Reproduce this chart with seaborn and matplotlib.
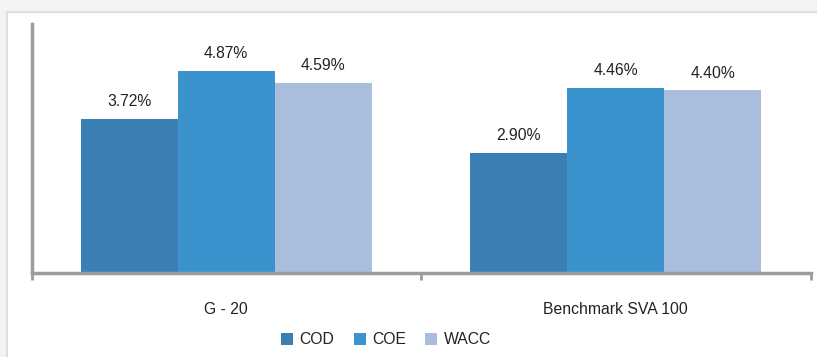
import matplotlib
matplotlib.use("Agg")
import matplotlib.pyplot as plt
from matplotlib.patches import Rectangle
from matplotlib.ticker import FixedLocator
import seaborn as sns
import pandas as pd

# Cost of capital by peer group
groups = ["G - 20", "Benchmark SVA 100"]
metrics = ["COD", "COE", "WACC"]
cod = [3.72, 2.90]
coe = [4.87, 4.46]
wacc = [4.59, 4.40]
colors = ["#3a80b4", "#3b93cd", "#a9bedd"]

df = pd.DataFrame({
    "group": groups * 3,
    "metric": [m for m in metrics for _ in groups],
    "value": cod + coe + wacc,
})

sns.set_theme(style="white")
plt.rcParams["font.family"] = ["Liberation Sans", "DejaVu Sans"]

FS = 11.3
TXT = "#222222"

fig = plt.figure(figsize=(8.17, 3.57), dpi=100, facecolor="#f3f3f3")

# white card with a soft shadow
for i, a in enumerate([0.025, 0.035, 0.05]):
    off = (3 - i) / 817
    fig.patches.append(Rectangle((8 / 817 - off, 0), 1, 1 - 13 / 357 + off * 817 / 357,
                                 transform=fig.transFigure, facecolor="#000000",
                                 alpha=a, edgecolor="none", zorder=-2))
fig.patches.append(Rectangle((8 / 817, 0), 1, 1 - 13 / 357, transform=fig.transFigure,
                             facecolor="white", edgecolor="none", zorder=-1))

ax = fig.add_axes([31.5 / 817, 1 - 273 / 357, 779 / 817, 249 / 357])
ax.set_zorder(2)
ax.set_facecolor("none")

sns.barplot(data=df, x="group", y="value", hue="metric", order=groups,
            hue_order=metrics, palette=colors, width=0.746, gap=0,
            saturation=1, ax=ax, legend=False, linewidth=0)

for cont in ax.containers:
    ax.bar_label(cont, fmt="%.2f%%", padding=7, fontsize=FS, color=TXT)

ax.set_ylim(0, 6)
ax.set_xlim(-0.5, 1.5)
ax.set_yticks([])
ax.set_xlabel("")
ax.set_ylabel("")

for s in ["top", "right"]:
    ax.spines[s].set_visible(False)
for s in ["left", "bottom"]:
    ax.spines[s].set_color("#999ca1")
    ax.spines[s].set_linewidth(2.5)

ax.xaxis.set_minor_locator(FixedLocator([-0.5, 0.5, 1.5]))
ax.tick_params(axis="x", which="major", length=0, pad=21, labelsize=FS,
               labelcolor=TXT)
ax.tick_params(axis="x", which="minor", length=5, width=2, color="#999ca1",
               direction="out", bottom=True)

handles = [Rectangle((0, 0), 1, 1, facecolor=c, edgecolor="none") for c in colors]
leg = fig.legend(handles, metrics, loc="center", bbox_to_anchor=(386 / 817, 1 - 340 / 357),
                 ncol=3, frameon=False, fontsize=FS, handlelength=0.75, handleheight=0.75,
                 handletextpad=0.4, columnspacing=1.25, labelcolor=TXT)
leg.set_zorder(3)

fig.savefig("out.png", dpi=100, facecolor=fig.get_facecolor())
